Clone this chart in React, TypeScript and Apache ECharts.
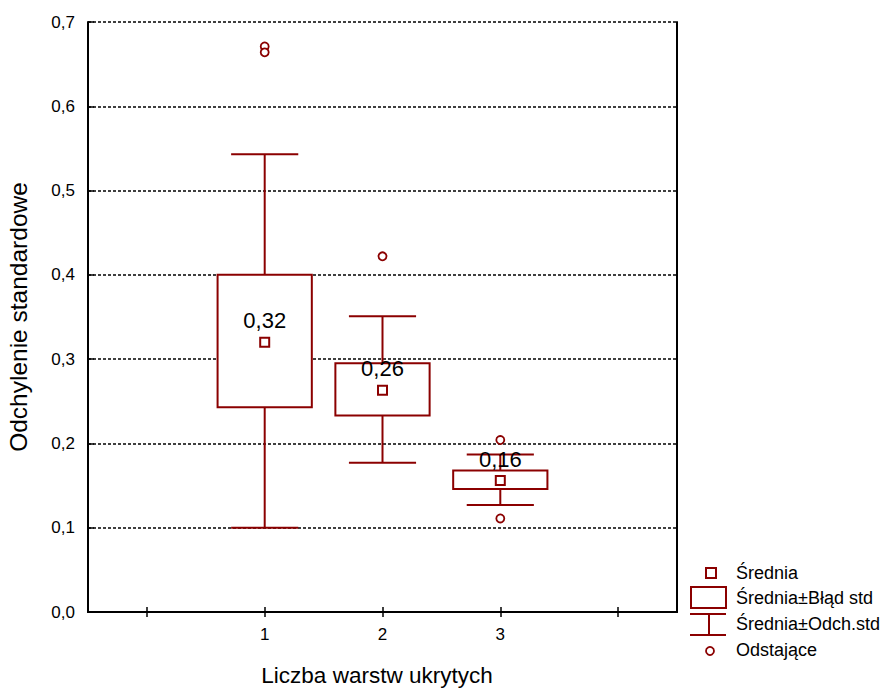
import React, { useEffect, useRef } from "react";
import * as echarts from "echarts";

const categories = ["", "1", "2", "3", ""];
const groupIndex = [1, 2, 3];
const means = [0.32, 0.263, 0.156];
const seLow = [0.243, 0.233, 0.146];
const seHigh = [0.4, 0.295, 0.168];
const sdLow = [0.1, 0.177, 0.127];
const sdHigh = [0.543, 0.351, 0.187];
const outlierGroup = [1, 1, 2, 3, 3];
const outlierValue = [0.671, 0.664, 0.422, 0.204, 0.111];
const yTicks = [0, 0.1, 0.2, 0.3, 0.4, 0.5, 0.6, 0.7];
const xAxisTitle = "Liczba warstw ukrytych";
const yAxisTitle = "Odchylenie standardowe";

const RED = "#8b0000";
const FONT = "'Liberation Sans', Arial, sans-serif";

export default function App() {
  const ref = useRef<HTMLDivElement>(null);
  useEffect(() => {
    if (!ref.current) return;
    const chart = echarts.init(ref.current, null, { renderer: "svg" });
    const boxData = groupIndex.map((g, i) => [g, seLow[i], seHigh[i], sdLow[i], sdHigh[i]]);
    const option: any = {
      animation: false,
      backgroundColor: "#ffffff",
      textStyle: { fontFamily: FONT },
      grid: { left: 88, top: 22, right: 207, bottom: 76, containLabel: false, outerBoundsMode: "none" },
      xAxis: [
        {
          type: "category",
          data: categories,
          position: "bottom",
          axisLine: { show: true, lineStyle: { color: "#000", width: 2 } },
          axisTick: { show: true, inside: true, length: 5, alignWithLabel: true, lineStyle: { color: "#000", width: 1.5 } },
          axisLabel: { color: "#000", fontSize: 17, fontFamily: FONT, margin: 14 },
          splitLine: { show: false },
        },
        {
          type: "category",
          data: categories,
          position: "top",
          axisLine: { show: true, lineStyle: { color: "#000", width: 2 } },
          axisTick: { show: true, inside: true, length: 5, alignWithLabel: true, lineStyle: { color: "#000", width: 1.5 } },
          axisLabel: { show: false },
          splitLine: { show: false },
        },
      ],
      yAxis: [
        {
          type: "value",
          min: 0,
          max: 0.7,
          interval: 0.1,
          position: "left",
          axisLine: { show: true, lineStyle: { color: "#000", width: 2 } },
          axisTick: { show: true, inside: true, length: 6, lineStyle: { color: "#000", width: 1.5 } },
          axisLabel: {
            color: "#000",
            fontSize: 17,
            fontFamily: FONT,
            margin: 13,
            formatter: (v: number) => {
              const t = yTicks.find((x) => Math.abs(x - v) < 1e-6);
              return (t !== undefined ? t : v).toFixed(1).replace(".", ",");
            },
          },
          splitLine: { show: true, lineStyle: { color: "#000", type: [3, 2], width: 1.6 } },
          name: yAxisTitle,
          nameLocation: "middle",
          nameGap: 57,
          nameTextStyle: { color: "#000", fontSize: 24.5, fontFamily: FONT },
        },
        {
          type: "value",
          min: 0,
          max: 0.7,
          interval: 0.1,
          position: "right",
          axisLine: { show: true, lineStyle: { color: "#000", width: 2 } },
          axisTick: { show: false },
          axisLabel: { show: false },
          splitLine: { show: false },
        },
      ],
      series: [
        {
          type: "custom",
          xAxisIndex: 0,
          yAxisIndex: 0,
          data: boxData,
          z: 3,
          renderItem: (params: any, api: any) => {
            const x = api.value(0);
            const lo = api.coord([x, api.value(1)]);
            const hi = api.coord([x, api.value(2)]);
            const wlo = api.coord([x, api.value(3)]);
            const whi = api.coord([x, api.value(4)]);
            const band = api.size([1, 0])[0];
            const bw = band * 0.8;
            const cw = band * 0.57;
            const cx = lo[0];
            const ls = { stroke: RED, lineWidth: 2, fill: "none" };
            return {
              type: "group",
              children: [
                { type: "line", shape: { x1: cx, y1: whi[1], x2: cx, y2: hi[1] }, style: ls },
                { type: "line", shape: { x1: cx, y1: lo[1], x2: cx, y2: wlo[1] }, style: ls },
                { type: "line", shape: { x1: cx - cw / 2, y1: whi[1], x2: cx + cw / 2, y2: whi[1] }, style: ls },
                { type: "line", shape: { x1: cx - cw / 2, y1: wlo[1], x2: cx + cw / 2, y2: wlo[1] }, style: ls },
                {
                  type: "rect",
                  shape: { x: cx - bw / 2, y: hi[1], width: bw, height: lo[1] - hi[1] },
                  style: { stroke: RED, lineWidth: 2, fill: "#ffffff" },
                },
              ],
            };
          },
        },
        {
          type: "scatter",
          name: "Średnia",
          data: groupIndex.map((g, i) => [g, means[i]]),
          symbol: "rect",
          symbolSize: 9,
          itemStyle: { color: "#ffffff", borderColor: RED, borderWidth: 2, opacity: 1 },
          z: 5,
          label: {
            show: true,
            position: "top",
            distance: 5,
            color: "#000",
            fontSize: 22,
            fontFamily: FONT,
            formatter: (p: any) => p.value[1].toFixed(2).replace(".", ","),
          },
        },
        {
          type: "scatter",
          name: "Odstające",
          data: outlierGroup.map((g, i) => [g, outlierValue[i]]),
          symbol: "circle",
          symbolSize: 8,
          itemStyle: { color: "#ffffff", borderColor: RED, borderWidth: 1.8, opacity: 1 },
          z: 5,
        },
      ],
      graphic: [
        { type: "text", x: 377, y: 675, style: { text: xAxisTitle, fill: "#000", fontSize: 22.5, fontFamily: FONT, align: "center", verticalAlign: "middle" } },
        { type: "rect", shape: { x: 706, y: 568, width: 10, height: 10 }, style: { fill: "#fff", stroke: RED, lineWidth: 2 } },
        { type: "text", x: 736, y: 573, style: { text: "Średnia", fill: "#000", fontSize: 18, fontFamily: FONT, verticalAlign: "middle" } },
        { type: "rect", shape: { x: 691, y: 587, width: 35, height: 21 }, style: { fill: "#fff", stroke: RED, lineWidth: 2 } },
        { type: "text", x: 736, y: 598, style: { text: "Średnia±Błąd std", fill: "#000", fontSize: 18, fontFamily: FONT, verticalAlign: "middle" } },
        { type: "line", shape: { x1: 690, y1: 614, x2: 726, y2: 614 }, style: { stroke: RED, lineWidth: 2 } },
        { type: "line", shape: { x1: 709, y1: 614, x2: 709, y2: 635 }, style: { stroke: RED, lineWidth: 2 } },
        { type: "line", shape: { x1: 690, y1: 635, x2: 726, y2: 635 }, style: { stroke: RED, lineWidth: 2 } },
        { type: "text", x: 736, y: 624, style: { text: "Średnia±Odch.std", fill: "#000", fontSize: 18, fontFamily: FONT, verticalAlign: "middle" } },
        { type: "circle", shape: { cx: 710, cy: 651, r: 4 }, style: { fill: "#fff", stroke: RED, lineWidth: 1.8 } },
        { type: "text", x: 736, y: 650, style: { text: "Odstające", fill: "#000", fontSize: 18, fontFamily: FONT, verticalAlign: "middle" } },
      ],
    };
    chart.setOption(option);
    return () => chart.dispose();
  }, []);
  return <div ref={ref} style={{ position: "fixed", left: 0, top: 0, width: 884, height: 688 }} />;
}
